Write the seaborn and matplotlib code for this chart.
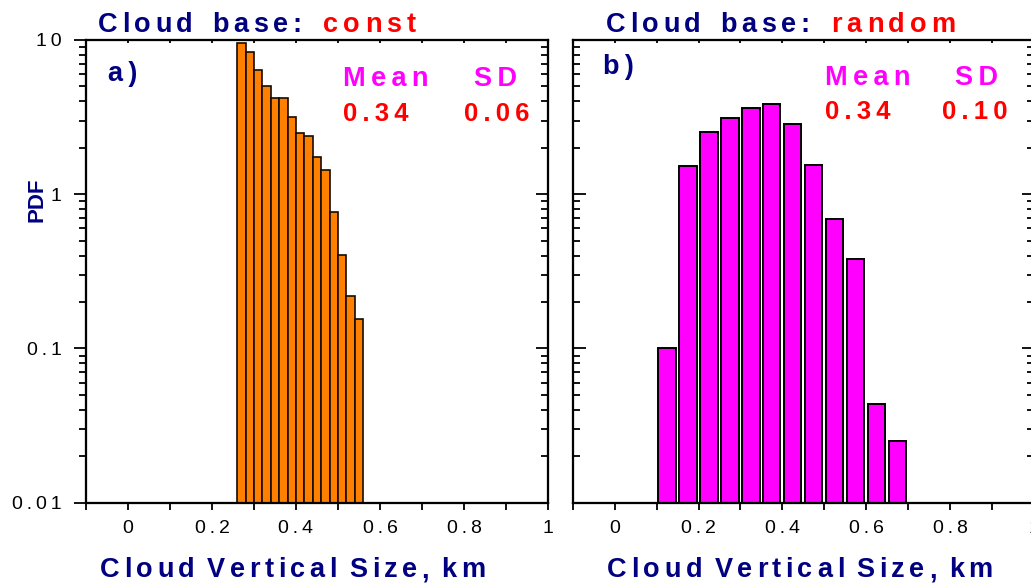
import numpy as np
import pandas as pd
import matplotlib
matplotlib.use("Agg")
import matplotlib.pyplot as plt
from matplotlib.ticker import FixedLocator, FixedFormatter, LogLocator, NullFormatter
from matplotlib.font_manager import FontProperties, findfont
from matplotlib.ft2font import FT2Font
import seaborn as sns

# Cloud vertical size bin centres (km) and PDF values
size_const = [0.27, 0.29, 0.31, 0.33, 0.35, 0.37, 0.39, 0.41,
              0.43, 0.45, 0.47, 0.49, 0.51, 0.53, 0.55]
pdf_const = [9.6, 8.4, 6.35, 5.0, 4.18, 4.2, 3.15, 2.5,
             2.4, 1.75, 1.43, 0.77, 0.405, 0.218, 0.156]

size_random = [0.125, 0.175, 0.225, 0.275, 0.325, 0.375,
               0.425, 0.475, 0.525, 0.575, 0.625, 0.675]
pdf_random = [0.100, 1.53, 2.55, 3.14, 3.60, 3.84,
              2.84, 1.54, 0.69, 0.38, 0.0436, 0.025]

stats_const = ["0.34", "0.06"]
stats_random = ["0.34", "0.10"]

x_ticks = [0, 0.2, 0.4, 0.6, 0.8, 1.0]
x_tick_labels = ["0", "0.2", "0.4", "0.6", "0.8", "1"]
x_minor_ticks = [-0.1, 0.1, 0.3, 0.5, 0.7, 0.9]
y_ticks = [0.01, 0.1, 1, 10]
y_tick_labels = ["0.01", "0.1", "1", "10"]

NAVY = "#000080"
RED = "#ff0000"
MAGENTA = "#ff00ff"
ORANGE = "#ff8000"

sns.set_theme(style="white")
plt.rcParams["font.family"] = ["Liberation Sans", "DejaVu Sans"]

THIN = "\u2009"
FAMILY = "Liberation Sans"


def spaced(text):
    """Letter-spaced text: thin spaces between the letters of each word."""
    return " ".join(THIN.join(word) for word in text.split(" "))


W, H = 1031, 584
DPI = 100
fig = plt.figure(figsize=(W / DPI, H / DPI), dpi=DPI)


def px_rect(left, top, right, bottom):
    return [left / W, 1 - bottom / H, (right - left) / W, (bottom - top) / H]


def fx(px):
    return px / W


def fy(py):
    return 1 - py / H


def tracked_text(x_px, y_px, text, size, color, track_px, word_px, ha="left"):
    """Bold text with extra letter tracking, placed glyph by glyph."""
    font = FT2Font(findfont(FontProperties(family=FAMILY, weight="bold")))
    font.set_size(size, DPI)
    offsets = []
    pen = 0.0
    for i, ch in enumerate(text):
        if ch == " ":
            pen += word_px
            continue
        offsets.append((ch, pen))
        pen += font.load_char(ord(ch)).linearHoriAdvance / 65536
        if i + 1 < len(text) and text[i + 1] != " ":
            pen += track_px
    start = x_px - pen / 2 if ha == "center" else x_px
    for ch, off in offsets:
        fig.text(fx(start + off), fy(y_px), ch, color=color, fontsize=size,
                 fontweight="bold", family=FAMILY, ha="left", va="baseline")


ax_a = fig.add_axes(px_rect(86, 40, 548, 502.7))
ax_b = fig.add_axes(px_rect(572.7, 40, 1034, 502.7))

df_const = pd.DataFrame({"size": size_const, "pdf": pdf_const})
df_random = pd.DataFrame({"size": size_random, "pdf": pdf_random})

sns.barplot(data=df_const, x="size", y="pdf", native_scale=True, width=1.0,
            color=ORANGE, saturation=1, edgecolor="#140c00", linewidth=1.2,
            errorbar=None, ax=ax_a)
sns.barplot(data=df_random, x="size", y="pdf", native_scale=True, width=0.82,
            color=MAGENTA, saturation=1, edgecolor="black", linewidth=1.4,
            errorbar=None, ax=ax_b)

TICK_FS = 14
LW = 1.5
TW = 1.3


def style_axes(ax, left_labels):
    ax.set_yscale("log")
    ax.set_xlim(-0.1, 1.0)
    ax.set_ylim(0.01, 10)
    ax.set_xlabel("")
    ax.set_ylabel("")

    # right-hand y ticks and top x ticks point inward on twin axes
    right = ax.twinx()
    right.set_yscale("log")
    right.set_ylim(0.01, 10)
    right.yaxis.set_major_locator(FixedLocator(y_ticks))
    right.yaxis.set_minor_locator(LogLocator(base=10, subs=np.arange(2, 10)))
    right.yaxis.set_major_formatter(NullFormatter())
    right.yaxis.set_minor_formatter(NullFormatter())
    right.tick_params(axis="y", which="major", direction="in", length=9,
                      width=TW, color="black", left=False, right=True,
                      labelright=False)
    right.tick_params(axis="y", which="minor", direction="in", length=5,
                      width=TW, color="black", left=False, right=True)

    top = ax.twiny()
    top.set_xlim(-0.1, 1.0)
    top.xaxis.set_major_locator(FixedLocator(sorted(x_ticks + x_minor_ticks)))
    top.xaxis.set_major_formatter(NullFormatter())
    top.tick_params(axis="x", which="major", direction="in", length=2.5,
                    width=TW, color="black", top=True, bottom=False,
                    labeltop=False)

    for a in (ax, right, top):
        for s in a.spines.values():
            s.set_visible(True)
            s.set_color("black")
            s.set_linewidth(LW)

    ax.xaxis.set_major_locator(FixedLocator(x_ticks))
    ax.xaxis.set_major_formatter(FixedFormatter([spaced(t) for t in x_tick_labels]))
    ax.xaxis.set_minor_locator(FixedLocator(x_minor_ticks))
    ax.yaxis.set_major_locator(FixedLocator(y_ticks))
    if left_labels:
        ax.yaxis.set_major_formatter(FixedFormatter([spaced(t) for t in y_tick_labels]))
    else:
        ax.yaxis.set_major_formatter(NullFormatter())
    ax.yaxis.set_minor_locator(LogLocator(base=10, subs=np.arange(2, 10)))
    ax.yaxis.set_minor_formatter(NullFormatter())

    ax.tick_params(axis="x", which="both", direction="out", length=4.7,
                   width=TW, color="black", bottom=True, top=False,
                   labelsize=TICK_FS, labelcolor="black", pad=7.5)
    ydir = "out" if left_labels else "in"
    ax.tick_params(axis="y", which="major", direction=ydir, length=9,
                   width=TW, color="black", left=True, right=False,
                   labelsize=TICK_FS, labelcolor="black", pad=8.5)
    ax.tick_params(axis="y", which="minor", direction=ydir, length=5,
                   width=TW, color="black", left=True, right=False)


style_axes(ax_a, True)
style_axes(ax_b, False)

BIG = 19.5
NUM = 18.5


def panel_text(ax, letter, letter_pos, stats, xs, y_head, y_num):
    tr = ax.get_xaxis_transform()
    ax.text(letter_pos[0], letter_pos[1], spaced(letter), transform=tr,
            color=NAVY, fontsize=BIG, fontweight="bold", ha="left", va="baseline")
    ax.text(xs[0], y_head, spaced("Mean"), transform=tr, color=MAGENTA,
            fontsize=BIG, fontweight="bold", ha="left", va="baseline")
    ax.text(xs[1], y_head, spaced("SD"), transform=tr, color=MAGENTA,
            fontsize=BIG, fontweight="bold", ha="left", va="baseline")
    ax.text(xs[0], y_num, spaced(stats[0]), transform=tr, color=RED,
            fontsize=NUM, fontweight="bold", ha="left", va="baseline")
    ax.text(xs[2], y_num, spaced(stats[1]), transform=tr, color=RED,
            fontsize=NUM, fontweight="bold", ha="left", va="baseline")


panel_text(ax_a, "a)", (-0.0476, 0.911), stats_const,
           (0.513, 0.824, 0.799), 0.901, 0.825)
panel_text(ax_b, "b)", (-0.0286, 0.926), stats_random,
           (0.5007, 0.8126, 0.7816), 0.903, 0.829)

# Panel titles
tracked_text(98, 32, "Cloud base:", BIG, NAVY, 4.5, 19.5)
tracked_text(323, 32, "const", BIG, RED, 5.0, 0)
tracked_text(606, 32, "Cloud base:", BIG, NAVY, 4.5, 19.5)
tracked_text(831, 32, "random", BIG, RED, 5.0, 0)

# Axis labels
tracked_text(292.5, 577, "Cloud Vertical Size, km", BIG, NAVY, 4.5, 12.5, ha="center")
tracked_text(800, 577, "Cloud Vertical Size, km", BIG, NAVY, 4.5, 12.5, ha="center")
fig.text(fx(37), fy(200), "PDF", color=NAVY, fontsize=16, fontweight="bold",
         rotation=90, ha="center", va="center")

fig.savefig("out.png", dpi=DPI, facecolor="white")
